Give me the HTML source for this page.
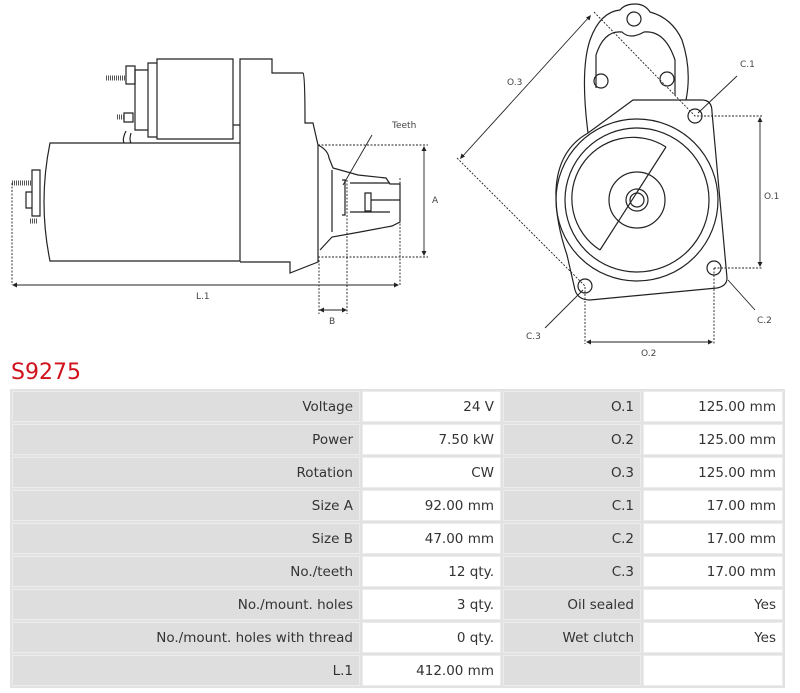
<!DOCTYPE html>
<html><head><meta charset="utf-8"><style>
body{margin:0;width:800px;height:693px;background:#fff;font-family:"Liberation Sans","DejaVu Sans",sans-serif;position:relative;overflow:hidden}
svg{position:absolute;left:0;top:0}
.t{position:absolute;left:11px;top:360px;color:#d0121b;font-size:22px;font-family:"DejaVu Sans","Liberation Sans",sans-serif}
table{position:absolute;left:10px;top:389px;border-collapse:separate;border-spacing:2px;font-family:"DejaVu Sans","Liberation Sans",sans-serif;font-size:13.5px;color:#333;background:#e2e2e2}
td{height:29px;padding:0 6px 0 0;text-align:right;background:#fff;border:1px solid #ececec}
td.l{background:#dedede}
</style></head><body>
<svg width="800" height="360" viewBox="0 0 800 360" fill="none" stroke="#222" stroke-width="1.2" font-family="DejaVu Sans,Liberation Sans,sans-serif" font-size="9">
<!-- left view -->
<path d="M50 143 H240 V261 H50 Q38 202 50 143Z" fill="#fff"/>
<path d="M240 143 V59 H272 V73 H303 Q305 75 305 123 H313 L318 145 V262 H318 L290 273 V262 H240"/>
<path d="M157 59 H233 V139 H157Z M148 63 H157 V137 H148Z M135 70 H148 V130 H135Z M233 125 H240 M126 131 Q122 139 124 143 M131 133 Q129 140 131 143"/>
<path d="M126 66 H135 V84 H126Z M124 113 H133 V122 H124Z M32 170 H40 V216 H32Z M26 192 H32 V208 H26Z"/>
<g stroke="#555" stroke-width="5" stroke-dasharray="1 1"><path d="M106 78 H126 M117 117 H124 M12 183 H32 M30 221 H38"/></g>
<path d="M318 145 Q328 150 329 158 L333 168 L358 175 L386 178 L390 184 H400 V222 L392 226 L360 232 L332 237 L320 250"/>
<path d="M332 170 V232 M342 180 H345 V215 H342 M350 183 H390 M350 212 H390 M365 193 V211 H371 V193Z M371 200 H400"/>
<g stroke-width="0.9" stroke-dasharray="2 1.5"><path d="M12 183 V285 M318 145 H428 M318 257 H428 M400 178 V285 M319 260 V314 M347 180 V314"/></g>
<path d="M14 285 H397 M424 148 V254 M321 310 H344 M372 135 L343 185" stroke-width="0.9"/>
<path d="M12 285 l5 -2.5 v5z M399 285 l-5 -2.5 v5z M424 146 l-2.5 5 h5z M424 256 l-2.5 -5 h5z M319 310 l5 -2.5 v5z M347 310 l-5 -2.5 v5z" fill="#222" stroke="none"/>
<g fill="#444" stroke="none"><text x="392" y="128">Teeth</text><text x="432" y="203">A</text><text x="196" y="299">L.1</text><text x="329" y="324">B</text></g>
<!-- right view -->
<path d="M588 133 Q580 70 590 40 Q600 12 620 10 Q625 4 635 4 Q645 4 650 12 Q672 18 682 40 Q692 70 686 100"/>
<path d="M596 88 V55 Q604 30 622 32 Q630 40 644 32 Q665 30 675 60 V95"/>
<circle cx="634" cy="19" r="7"/><circle cx="601" cy="81" r="7"/><circle cx="667" cy="79" r="7"/>
<path d="M633 100 H702 Q712 100 712 112 L727 278 Q727 286 717 288 L590 300 Q578 300 575 290 L567 255 Q555 220 556 190 Q558 150 588 133 Z"/>
<circle cx="637" cy="200" r="81"/><circle cx="637" cy="200" r="72"/>
<path d="M666 147 A58 58 0 1 0 600 250 M666 147 L600 250"/>
<circle cx="637" cy="200" r="28"/><circle cx="637" cy="200" r="11"/><circle cx="637" cy="200" r="7"/>
<circle cx="695" cy="116" r="7"/><circle cx="714" cy="268" r="7"/><circle cx="585" cy="286" r="7"/>
<g stroke-width="0.9" stroke-dasharray="2 1.5"><path d="M594 12 L695 116 H763 M457 158 L585 286 V344 M714 268 H763 M714 268 V344"/></g>
<path d="M590 16 L461 158 M760 119 V265 M588 342 H711 M737 76 L698 113 M728 280 L755 310 M583 290 L545 328" stroke-width="0.9"/>
<path d="M591 15 l-1.5 5.5 l-3.5 -3z M460 159 l1.5 -5.5 l3.5 3z M760 117 l-2.5 5 h5z M760 267 l-2.5 -5 h5z M586 342 l5 -2.5 v5z M713 342 l-5 -2.5 v5z" fill="#222" stroke="none"/>
<g fill="#444" stroke="none"><text x="507" y="85">O.3</text><text x="740" y="67">C.1</text><text x="764" y="199">O.1</text><text x="757" y="323">C.2</text><text x="526" y="339">C.3</text><text x="641" y="356">O.2</text></g>
</svg>
<div class="t">S9275</div>
<table>
<tr><td class="l" style="width:340px">Voltage</td><td style="width:131px">24 V</td><td class="l" style="width:130px">O.1</td><td style="width:132px">125.00 mm</td></tr>
<tr><td class="l">Power</td><td>7.50 kW</td><td class="l">O.2</td><td>125.00 mm</td></tr>
<tr><td class="l">Rotation</td><td>CW</td><td class="l">O.3</td><td>125.00 mm</td></tr>
<tr><td class="l">Size A</td><td>92.00 mm</td><td class="l">C.1</td><td>17.00 mm</td></tr>
<tr><td class="l">Size B</td><td>47.00 mm</td><td class="l">C.2</td><td>17.00 mm</td></tr>
<tr><td class="l">No./teeth</td><td>12 qty.</td><td class="l">C.3</td><td>17.00 mm</td></tr>
<tr><td class="l">No./mount. holes</td><td>3 qty.</td><td class="l">Oil sealed</td><td>Yes</td></tr>
<tr><td class="l">No./mount. holes with thread</td><td>0 qty.</td><td class="l">Wet clutch</td><td>Yes</td></tr>
<tr><td class="l">L.1</td><td>412.00 mm</td><td class="l"></td><td></td></tr>
</table>
</body></html>
